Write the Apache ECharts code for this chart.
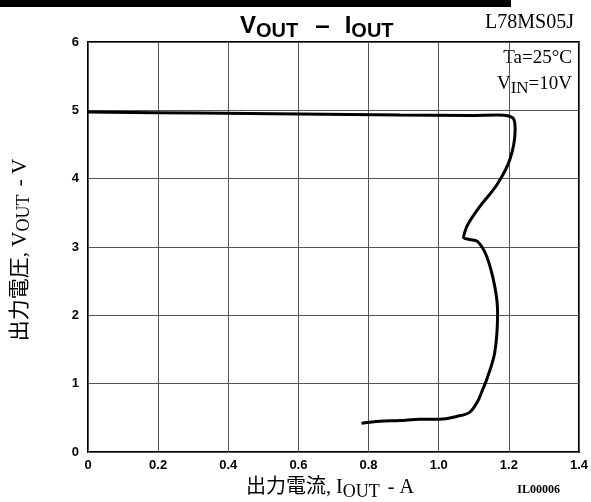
<!DOCTYPE html>
<html>
<head>
<meta charset="utf-8">
<script src="https://cdn.jsdelivr.net/npm/echarts@6/dist/echarts.min.js"></script>
<style>html,body{margin:0;padding:0;background:#fff}#c{width:591px;height:502px}</style>
</head>
<body>
<div id="c"></div>
<script>
// ---- data ----
const iout = [0, 0.318, 0.603, 0.889, 1.088, 1.170, 1.197, 1.214, 1.218, 1.203, 1.166, 1.117, 1.083, 1.074, 1.071, 1.088, 1.111, 1.137, 1.160, 1.168, 1.160, 1.137, 1.125, 1.111, 1.088, 1.051, 1.003, 0.946, 0.889, 0.832, 0.780];
const vout = [4.975, 4.960, 4.946, 4.930, 4.925, 4.930, 4.920, 4.870, 4.720, 4.280, 3.910, 3.590, 3.330, 3.210, 3.140, 3.110, 3.080, 2.860, 2.420, 2.040, 1.460, 1.060, 0.910, 0.740, 0.580, 0.520, 0.480, 0.480, 0.460, 0.450, 0.420];
const xTickLabels = ['0', '0.2', '0.4', '0.6', '0.8', '1.0', '1.2', '1.4'];
const yTickLabels = ['0', '1', '2', '3', '4', '5', '6'];

const SERIF = '"Liberation Serif", "Noto Sans CJK JP", serif';
const SANS = '"Liberation Sans", Arial, sans-serif';

const cv = document.createElement('canvas').getContext('2d');
function fnt(p) { return (p.w || 'normal') + ' ' + p.s + 'px ' + p.f; }
function tw(p) { cv.font = fnt(p); return cv.measureText(p.t).width; }

// lay out a run of text pieces (main text / subscripts) along x
function run(pieces, x0, y0) {
  const out = []; let x = x0;
  pieces.forEach(p => {
    x += (p.gap || 0);
    out.push({type: 'text', x: x, y: y0 + (p.dy || 0),
      style: {text: p.t, font: fnt(p), fill: '#000', textVerticalAlign: 'top'}});
    x += tw(p);
  });
  return out;
}
function runWidth(pieces) { return pieces.reduce((a, p) => a + tw(p) + (p.gap || 0), 0); }

const titlePieces = [
  {t: 'V', s: 24, f: SANS, w: 'bold'}, {t: 'OUT', s: 20, f: SANS, w: 'bold', dy: 7},
  {t: '–', s: 26, f: SANS, w: 'bold', gap: 17}, {t: 'I', s: 24, f: SANS, w: 'bold', gap: 15},
  {t: 'OUT', s: 20, f: SANS, w: 'bold', dy: 7}
];
const xNamePieces = [
  {t: '出力電流, I', s: 20, f: SERIF}, {t: 'OUT', s: 18, f: SERIF, dy: 5}, {t: ' - A', s: 20, f: SERIF, gap: 3}
];
const yNamePieces = [
  {t: '出力電圧, V', s: 21, f: SERIF}, {t: 'OUT', s: 18, f: SERIF, dy: 5}, {t: ' - V', s: 21, f: SERIF, gap: 3}
];
const vinPieces = [
  {t: 'V', s: 19, f: SERIF}, {t: 'IN', s: 17, f: SERIF, dy: 5}, {t: '=10V', s: 19, f: SERIF}
];

const chart = echarts.init(document.getElementById('c'), null, {renderer: 'canvas'});
const xW = runWidth(xNamePieces), yW = runWidth(yNamePieces), vW = runWidth(vinPieces);

chart.setOption({
  animation: false,
  grid: {left: 88, right: 12, top: 42, height: 410, show: true, borderColor: '#000', borderWidth: 2, backgroundColor: 'transparent'},
  xAxis: {
    type: 'value', min: 0, max: 1.4, interval: 0.2,
    axisLine: {show: false}, axisTick: {show: false},
    splitLine: {show: true, lineStyle: {color: '#555', width: 1}},
    axisLabel: {color: '#000', fontFamily: SANS, fontWeight: 'bold', fontSize: 13, margin: 7,
      formatter: v => xTickLabels[Math.round(v / 0.2)]}
  },
  yAxis: {
    type: 'value', min: 0, max: 6, interval: 1,
    axisLine: {show: false}, axisTick: {show: false},
    splitLine: {show: true, lineStyle: {color: '#555', width: 1}},
    axisLabel: {color: '#000', fontFamily: SANS, fontWeight: 'bold', fontSize: 13, margin: 9,
      formatter: v => yTickLabels[Math.round(v)]}
  },
  series: [{
    type: 'line', data: iout.map((x, i) => [x, vout[i]]), smooth: 0.35, showSymbol: false,
    lineStyle: {color: '#000', width: 3}
  }],
  graphic: [
    {type: 'rect', shape: {x: 0, y: 0, width: 511, height: 7}, style: {fill: '#000'}},
    {type: 'group', children: run(titlePieces, 240, 14)},
    {type: 'text', x: 574, y: 13, style: {text: 'L78MS05J', font: '20px ' + SERIF, fill: '#000', textAlign: 'right', textVerticalAlign: 'top'}},
    {type: 'text', x: 572, y: 49, style: {text: 'Ta=25°C', font: '19px ' + SERIF, fill: '#000', textAlign: 'right', textVerticalAlign: 'top'}},
    {type: 'group', children: run(vinPieces, 572 - vW, 75)},
    {type: 'group', children: run(xNamePieces, 330 - xW / 2, 478)},
    {type: 'text', x: 560, y: 484, style: {text: 'IL00006', font: 'bold 12px ' + SERIF, fill: '#000', textAlign: 'right', textVerticalAlign: 'top'}},
    {type: 'group', x: 10, y: 250 + yW / 2, rotation: Math.PI / 2, children: run(yNamePieces, 0, 0)}
  ]
});
</script>
</body>
</html>
